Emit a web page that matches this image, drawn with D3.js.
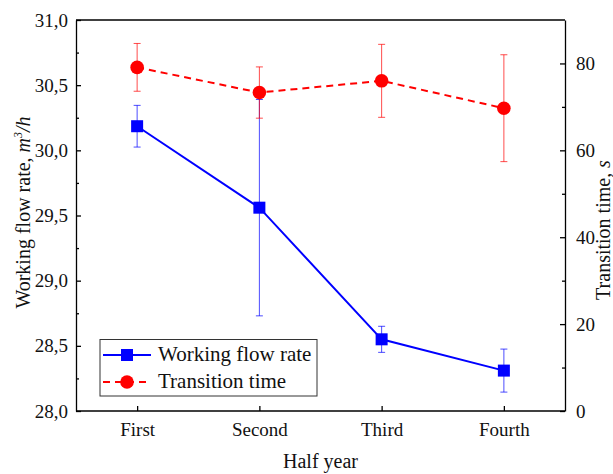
<!DOCTYPE html>
<html>
<head>
<meta charset="utf-8">
<script src="https://cdn.jsdelivr.net/npm/d3@7"></script>
<style>
  html, body { margin: 0; padding: 0; background: #fff; }
  svg text { font-family: "Liberation Serif", "DejaVu Serif", serif; }
</style>
</head>
<body>
<svg id="chart" width="613" height="474"></svg>
<script>
// Half-year periods
const periods = ["First", "Second", "Third", "Fourth"];
// Working flow rate, m3/h (mean and error)
const flowRate = [30.185, 29.56, 28.55, 28.31];
const flowErr = [0.16, 0.83, 0.10, 0.165];
// Transition time, s (mean and error)
const transTime = [79.1, 73.3, 76.0, 69.7];
const transErr = [5.5, 5.9, 8.4, 12.3];
// Axis ticks
const leftTicks = [28.0, 28.5, 29.0, 29.5, 30.0, 30.5, 31.0];
const leftMinor = [28.25, 28.75, 29.25, 29.75, 30.25, 30.75];
const rightTicks = [0, 20, 40, 60, 80];
const rightMinor = [10, 30, 50, 70];

const SERIF = "Liberation Serif, DejaVu Serif, serif";
const svg = d3.select("#chart");
const m = { left: 76, right: 48, top: 20, bottom: 63 };
const W = 613, H = 474;
const x0 = m.left, x1 = W - m.right, y0 = H - m.bottom, y1 = m.top;

const x = d3.scalePoint().domain(periods).range([x0, x1]).padding(0.5);
const yL = d3.scaleLinear().domain([28, 31]).range([y0, y1]);
const yR = d3.scaleLinear().domain([0, 90]).range([y0, y1]);

const blue = "#0000ff", red = "#ff0000";
const fmt = d => d3.format(".1f")(d).replace(".", ",");

// Frame: top line
svg.append("line").attr("x1", x0).attr("x2", x1).attr("y1", y1).attr("y2", y1)
  .attr("stroke", "#000").attr("stroke-width", 1.3);

// Left axis
svg.append("g").attr("transform", `translate(${x0},0)`)
  .call(d3.axisLeft(yL).tickValues(leftTicks).tickFormat(fmt).tickSizeInner(-5).tickSizeOuter(0).tickPadding(8));
svg.append("g").attr("transform", `translate(${x0},0)`)
  .call(d3.axisLeft(yL).tickValues(leftMinor).tickFormat("").tickSizeInner(-3).tickSizeOuter(0))
  .select(".domain").remove();

// Right axis
svg.append("g").attr("transform", `translate(${x1},0)`)
  .call(d3.axisRight(yR).tickValues(rightTicks).tickSizeInner(-5).tickSizeOuter(0).tickPadding(11));
svg.append("g").attr("transform", `translate(${x1},0)`)
  .call(d3.axisRight(yR).tickValues(rightMinor).tickFormat("").tickSizeInner(-3).tickSizeOuter(0))
  .select(".domain").remove();

// Bottom axis
const gB = svg.append("g").attr("transform", `translate(0,${y0})`)
  .call(d3.axisBottom(x).tickSizeInner(-5).tickSizeOuter(0).tickPadding(12));

svg.selectAll("g").attr("font-family", SERIF);
svg.selectAll(".domain").attr("stroke", "#000").attr("stroke-width", 1.3);
svg.selectAll(".tick line").attr("stroke", "#000").attr("stroke-width", 1.3);
svg.selectAll(".tick text").attr("font-size", 19).attr("font-family", SERIF).attr("fill", "#111");
// Extend bottom domain across the full frame
gB.select(".domain").attr("d", `M${x0},0H${x1}`);

// Axis titles
svg.append("text").attr("x", (x0 + x1) / 2).attr("y", 468).attr("text-anchor", "middle")
  .attr("font-family", SERIF).attr("font-size", 20).attr("fill", "#111").text("Half year");

const tl = svg.append("text").attr("transform", `translate(30,${(y0 + y1) / 2 - 3}) rotate(-90)`)
  .attr("text-anchor", "middle").attr("font-family", SERIF).attr("font-size", 20).attr("fill", "#111");
tl.append("tspan").text("Working flow rate, ");
tl.append("tspan").attr("font-style", "italic").text("m");
tl.append("tspan").attr("font-style", "italic").attr("font-size", 12).attr("dy", -8).text("3");
tl.append("tspan").attr("font-style", "italic").attr("dy", 8).text("/h");

const tr = svg.append("text").attr("transform", `translate(610,230) rotate(-90)`)
  .attr("text-anchor", "middle").attr("font-family", SERIF).attr("font-size", 20).attr("fill", "#111");
tr.append("tspan").text("Transition time, ");
tr.append("tspan").attr("font-style", "italic").text("s");

// Error bars
function errorBars(vals, errs, y, color) {
  const g = svg.append("g").attr("stroke", color).attr("stroke-width", 1).attr("stroke-opacity", 0.7);
  periods.forEach((p, i) => {
    const cx = x(p), hi = y(vals[i] + errs[i]), lo = y(vals[i] - errs[i]);
    g.append("line").attr("x1", cx).attr("x2", cx).attr("y1", hi).attr("y2", lo);
    g.append("line").attr("x1", cx - 3.5).attr("x2", cx + 3.5).attr("y1", hi).attr("y2", hi);
    g.append("line").attr("x1", cx - 3.5).attr("x2", cx + 3.5).attr("y1", lo).attr("y2", lo);
  });
}
errorBars(flowRate, flowErr, yL, blue);
errorBars(transTime, transErr, yR, red);

// Lines
const lineL = d3.line().x((d, i) => x(periods[i])).y(d => yL(d));
const lineR = d3.line().x((d, i) => x(periods[i])).y(d => yR(d));
svg.append("path").attr("d", lineL(flowRate)).attr("fill", "none").attr("stroke", blue).attr("stroke-width", 2);
svg.append("path").attr("d", lineR(transTime)).attr("fill", "none").attr("stroke", red)
  .attr("stroke-width", 2).attr("stroke-dasharray", "7,5");

// Markers
const sq = 12;
svg.selectAll(".sq").data(flowRate).enter().append("rect")
  .attr("x", (d, i) => x(periods[i]) - sq / 2).attr("y", d => yL(d) - sq / 2)
  .attr("width", sq).attr("height", sq).attr("fill", blue);
svg.selectAll(".dot").data(transTime).enter().append("circle")
  .attr("cx", (d, i) => x(periods[i])).attr("cy", d => yR(d)).attr("r", 6.8).attr("fill", red);

// Legend
const lg = svg.append("g");
lg.append("rect").attr("x", 100).attr("y", 339.5).attr("width", 217).attr("height", 56.5)
  .attr("fill", "#fff").attr("stroke", "#333").attr("stroke-width", 1);
const rows = [
  { label: "Working flow rate", color: blue, dash: null, marker: "square", y: 355 },
  { label: "Transition time", color: red, dash: "7,5", marker: "circle", y: 382 }
];
rows.forEach(r => {
  lg.append("line").attr("x1", 103).attr("x2", 151).attr("y1", r.y).attr("y2", r.y)
    .attr("stroke", r.color).attr("stroke-width", 2).attr("stroke-dasharray", r.dash);
  if (r.marker === "square") {
    lg.append("rect").attr("x", 127 - sq / 2).attr("y", r.y - sq / 2).attr("width", sq).attr("height", sq).attr("fill", r.color);
  } else {
    lg.append("circle").attr("cx", 127).attr("cy", r.y).attr("r", 6.8).attr("fill", r.color);
  }
  lg.append("text").attr("x", 158).attr("y", r.y + 6).attr("font-family", SERIF).attr("font-size", 21)
    .attr("fill", "#111").text(r.label);
});
</script>
</body>
</html>
